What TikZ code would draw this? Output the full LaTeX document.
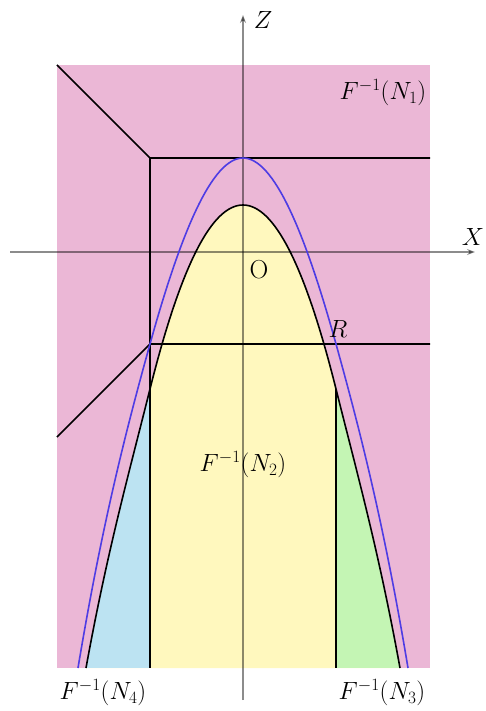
\documentclass[tikz,border=0pt]{standalone}
\usetikzlibrary{arrows.meta}
\definecolor{pinkreg}{RGB}{235,183,214}
\definecolor{yellowreg}{RGB}{255,248,190}
\definecolor{bluereg}{RGB}{188,227,242}
\definecolor{greenreg}{RGB}{196,245,180}
\definecolor{curveblue}{RGB}{78,60,228}
\tikzset{
  axis/.style={draw=black, opacity=0.45, line width=1.1pt, -{Stealth[length=8pt,width=6pt]}},
  edge/.style={draw=black, line width=1.6pt},
  bluecurve/.style={draw=curveblue, line width=1.6pt},
  lbl/.style={font=\fontsize{26}{30}\selectfont, inner sep=0pt}
}
\def\blackpath{(86,668) .. controls (107.33,550.7) and (128.67,474.3) .. (150,389) .. controls (181,265) and (212,205) .. (243,205) .. controls (274,205) and (305,265) .. (336,389) .. controls (357.33,474.3) and (378.67,550.7) .. (400,668)}
\begin{document}
\begin{tikzpicture}[x=1pt,y=-1pt]
\useasboundingbox (0,0) rectangle (485,711);
% regions
\fill[pinkreg] (57,65) rectangle (430,668);
\fill[yellowreg] \blackpath -- cycle;
\begin{scope}
\clip \blackpath -- cycle;
\fill[bluereg] (57,158) rectangle (150,668);
\fill[greenreg] (336,158) rectangle (430,668);
\end{scope}
% axes
\coordinate (xs) at (10,252);
\coordinate (xe) at (475,252);
\coordinate (zs) at (243,700);
\coordinate (ze) at (243,15);
\draw[axis] (xs) -- (xe);
\draw[axis] (zs) -- (ze);
% black lines
\coordinate (tl) at (57,65);
\coordinate (c1) at (150,158);
\coordinate (r1) at (430,158);
\coordinate (ml) at (57,437);
\coordinate (c2) at (150,344);
\coordinate (r2) at (430,344);
\coordinate (b1) at (150,668);
\coordinate (v2) at (336,389);
\coordinate (b2) at (336,668);
\draw[edge] (tl) -- (c1) -- (r1);
\draw[edge] (c1) -- (b1);
\draw[edge] (ml) -- (c2) -- (r2);
\draw[edge] (v2) -- (b2);
\draw[edge] \blackpath;
\draw[bluecurve] (78,668) .. controls (102,524) and (126,430.4) .. (150,344) .. controls (181,232.4) and (212,158) .. (243,158) .. controls (274,158) and (305,232.4) .. (336,344) .. controls (360,430.4) and (384,524) .. (408,668);
% labels
\node[lbl] (lz) at (263,20) {$Z$};
\node[lbl] (lx) at (473,237) {$X$};
\node[lbl] (lo) at (259,270) {O};
\node[lbl] (lr) at (338,329) {$R$};
\node[lbl] (n1) at (383,93) {$F^{-1}(N_1)$};
\node[lbl] (n2) at (243,465) {$F^{-1}(N_2)$};
\node[lbl] (n3) at (382,693) {$F^{-1}(N_3)$};
\node[lbl] (n4) at (103,693) {$F^{-1}(N_4)$};
\end{tikzpicture}
\end{document}
